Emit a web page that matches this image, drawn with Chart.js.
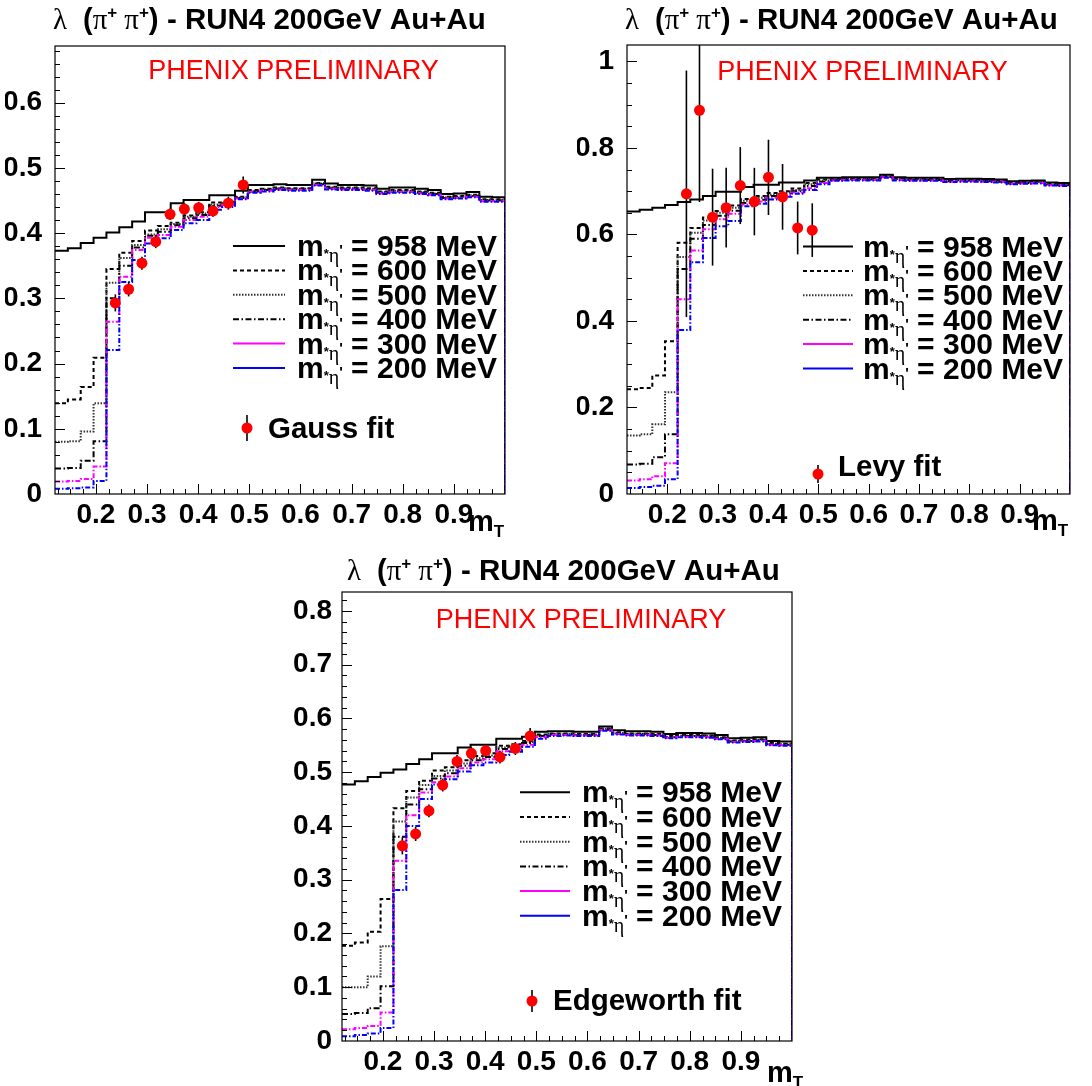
<!DOCTYPE html>
<html>
<head>
<meta charset="utf-8">
<script src="https://cdn.jsdelivr.net/npm/chart.js@4.4.0/dist/chart.umd.min.js"></script>
<style>
body { margin: 0; background: #fff; width: 1092px; height: 1086px; position: relative; overflow: hidden; }
canvas { position: absolute; }
</style>
</head>
<body>
<canvas id="chart_gauss" width="546" height="543" style="left:0px;top:0px"></canvas>
<canvas id="chart_levy" width="546" height="543" style="left:546px;top:0px"></canvas>
<canvas id="chart_edge" width="546" height="546" style="left:270px;top:540px"></canvas>
<script>
var SANS = '"Liberation Sans", Arial, sans-serif';
var SERIF = '"Liberation Serif", "Times New Roman", serif';

// m_T binning of the simulated histograms
var binLow = 0.12, binHigh = 1.0, nBins = 35;
var binEdges = [];
for (var k = 0; k <= nBins; k++) binEdges.push(binLow + k * (binHigh - binLow) / nBins);

var masses = ['958', '600', '500', '400', '300', '200'];

// GAUSS
var gauss958 = [0.373, 0.377, 0.385, 0.393, 0.401, 0.409, 0.418, 0.432, 0.432, 0.446, 0.451, 0.451, 0.458, 0.458, 0.465, 0.474, 0.474, 0.475, 0.474, 0.474, 0.482, 0.476, 0.474, 0.474, 0.473, 0.468, 0.470, 0.470, 0.468, 0.466, 0.460, 0.461, 0.463, 0.456, 0.455];
var gauss600 = [0.139, 0.145, 0.164, 0.209, 0.345, 0.370, 0.388, 0.404, 0.411, 0.416, 0.427, 0.432, 0.447, 0.448, 0.456, 0.466, 0.468, 0.470, 0.469, 0.469, 0.477, 0.471, 0.470, 0.470, 0.469, 0.464, 0.466, 0.466, 0.464, 0.462, 0.456, 0.457, 0.459, 0.452, 0.452];
var gauss500 = [0.080, 0.081, 0.096, 0.139, 0.324, 0.362, 0.382, 0.398, 0.406, 0.414, 0.425, 0.430, 0.444, 0.446, 0.455, 0.465, 0.467, 0.469, 0.468, 0.468, 0.476, 0.470, 0.469, 0.469, 0.468, 0.463, 0.465, 0.465, 0.463, 0.461, 0.455, 0.456, 0.458, 0.451, 0.451];
var gauss400 = [0.039, 0.040, 0.051, 0.081, 0.300, 0.350, 0.378, 0.396, 0.402, 0.412, 0.423, 0.428, 0.442, 0.445, 0.454, 0.464, 0.466, 0.468, 0.467, 0.467, 0.475, 0.469, 0.468, 0.468, 0.467, 0.462, 0.464, 0.464, 0.462, 0.460, 0.454, 0.455, 0.457, 0.450, 0.450];
var gauss300 = [0.019, 0.020, 0.023, 0.042, 0.264, 0.333, 0.374, 0.393, 0.397, 0.410, 0.420, 0.425, 0.440, 0.443, 0.453, 0.463, 0.465, 0.467, 0.466, 0.466, 0.474, 0.468, 0.467, 0.467, 0.466, 0.461, 0.463, 0.463, 0.461, 0.459, 0.453, 0.454, 0.456, 0.449, 0.449];
var gauss200 = [0.008, 0.009, 0.010, 0.020, 0.221, 0.325, 0.359, 0.384, 0.392, 0.405, 0.415, 0.420, 0.436, 0.440, 0.452, 0.462, 0.464, 0.466, 0.465, 0.465, 0.473, 0.467, 0.466, 0.466, 0.465, 0.460, 0.462, 0.462, 0.460, 0.458, 0.452, 0.453, 0.455, 0.448, 0.448];

// LEVY
var levy958 = [0.653, 0.657, 0.662, 0.668, 0.675, 0.681, 0.689, 0.699, 0.699, 0.710, 0.715, 0.715, 0.720, 0.720, 0.725, 0.731, 0.731, 0.732, 0.732, 0.732, 0.738, 0.732, 0.731, 0.731, 0.731, 0.728, 0.729, 0.729, 0.728, 0.727, 0.723, 0.724, 0.725, 0.720, 0.719];
var levy600 = [0.242, 0.245, 0.274, 0.353, 0.581, 0.615, 0.639, 0.654, 0.667, 0.682, 0.689, 0.696, 0.700, 0.706, 0.719, 0.727, 0.728, 0.729, 0.729, 0.729, 0.735, 0.729, 0.728, 0.728, 0.728, 0.725, 0.726, 0.726, 0.725, 0.724, 0.720, 0.721, 0.722, 0.717, 0.716];
var levy500 = [0.135, 0.138, 0.161, 0.235, 0.548, 0.604, 0.632, 0.650, 0.662, 0.678, 0.685, 0.692, 0.697, 0.703, 0.716, 0.725, 0.727, 0.728, 0.728, 0.728, 0.734, 0.728, 0.727, 0.727, 0.727, 0.724, 0.725, 0.725, 0.724, 0.723, 0.719, 0.720, 0.721, 0.716, 0.715];
var levy400 = [0.068, 0.070, 0.085, 0.138, 0.520, 0.590, 0.622, 0.643, 0.655, 0.673, 0.680, 0.689, 0.694, 0.700, 0.712, 0.722, 0.726, 0.727, 0.727, 0.727, 0.733, 0.727, 0.726, 0.726, 0.726, 0.723, 0.724, 0.724, 0.723, 0.722, 0.718, 0.719, 0.720, 0.715, 0.714];
var levy300 = [0.031, 0.034, 0.041, 0.071, 0.450, 0.563, 0.612, 0.635, 0.648, 0.669, 0.676, 0.685, 0.691, 0.697, 0.707, 0.719, 0.725, 0.726, 0.726, 0.726, 0.732, 0.726, 0.725, 0.725, 0.725, 0.722, 0.723, 0.723, 0.722, 0.721, 0.717, 0.718, 0.719, 0.714, 0.713];
var levy200 = [0.014, 0.016, 0.019, 0.034, 0.379, 0.536, 0.592, 0.619, 0.631, 0.665, 0.671, 0.681, 0.687, 0.694, 0.703, 0.716, 0.724, 0.725, 0.725, 0.725, 0.731, 0.725, 0.724, 0.724, 0.724, 0.721, 0.722, 0.722, 0.721, 0.720, 0.716, 0.717, 0.718, 0.713, 0.712];

// EDGEWORTH
var edge958 = [0.477, 0.483, 0.491, 0.499, 0.505, 0.515, 0.524, 0.535, 0.535, 0.546, 0.551, 0.551, 0.562, 0.562, 0.566, 0.575, 0.576, 0.576, 0.575, 0.575, 0.585, 0.578, 0.576, 0.576, 0.575, 0.571, 0.573, 0.573, 0.572, 0.569, 0.563, 0.564, 0.565, 0.558, 0.557];
var edge600 = [0.177, 0.183, 0.203, 0.264, 0.433, 0.465, 0.484, 0.503, 0.509, 0.522, 0.530, 0.535, 0.549, 0.552, 0.558, 0.570, 0.572, 0.572, 0.571, 0.571, 0.581, 0.574, 0.572, 0.572, 0.571, 0.567, 0.569, 0.569, 0.568, 0.565, 0.559, 0.560, 0.561, 0.554, 0.553];
var edge500 = [0.100, 0.100, 0.120, 0.176, 0.408, 0.453, 0.476, 0.493, 0.503, 0.516, 0.526, 0.531, 0.546, 0.549, 0.556, 0.568, 0.571, 0.571, 0.570, 0.570, 0.580, 0.573, 0.571, 0.571, 0.570, 0.566, 0.568, 0.568, 0.567, 0.564, 0.558, 0.559, 0.560, 0.553, 0.552];
var edge400 = [0.050, 0.052, 0.061, 0.102, 0.380, 0.440, 0.468, 0.488, 0.498, 0.512, 0.522, 0.528, 0.543, 0.547, 0.554, 0.567, 0.570, 0.570, 0.569, 0.569, 0.579, 0.572, 0.570, 0.570, 0.569, 0.565, 0.567, 0.567, 0.566, 0.563, 0.557, 0.558, 0.559, 0.552, 0.551];
var edge300 = [0.022, 0.024, 0.028, 0.053, 0.335, 0.420, 0.462, 0.481, 0.492, 0.507, 0.518, 0.524, 0.539, 0.543, 0.551, 0.565, 0.569, 0.569, 0.568, 0.568, 0.578, 0.571, 0.569, 0.569, 0.568, 0.564, 0.566, 0.566, 0.565, 0.562, 0.556, 0.557, 0.558, 0.551, 0.550];
var edge200 = [0.009, 0.011, 0.014, 0.024, 0.281, 0.400, 0.450, 0.477, 0.487, 0.501, 0.513, 0.518, 0.532, 0.538, 0.547, 0.562, 0.567, 0.568, 0.567, 0.567, 0.577, 0.570, 0.568, 0.568, 0.567, 0.563, 0.565, 0.565, 0.564, 0.561, 0.555, 0.556, 0.557, 0.550, 0.549];

// measured lambda (same m_T points for the three fits)
var mtPoints = [0.238, 0.264, 0.290, 0.317, 0.345, 0.373, 0.401, 0.429, 0.459, 0.488];
var gaussY = [0.293, 0.314, 0.354, 0.387, 0.429, 0.437, 0.439, 0.434, 0.446, 0.474];
var gaussErr = [0.013, 0.011, 0.010, 0.010, 0.009, 0.009, 0.009, 0.009, 0.010, 0.013];
var levyY = [0.694, 0.887, 0.640, 0.662, 0.713, 0.676, 0.732, 0.687, 0.615, 0.610];
var levyErr = [0.285, 0.212, 0.112, 0.092, 0.089, 0.078, 0.087, 0.076, 0.061, 0.062];
var edgeY = [0.363, 0.385, 0.428, 0.476, 0.520, 0.535, 0.540, 0.528, 0.544, 0.567];
var edgeErr = [0.016, 0.013, 0.012, 0.012, 0.012, 0.012, 0.012, 0.012, 0.012, 0.015];

// axis ticks
var xTicks = [0.2, 0.3, 0.4, 0.5, 0.6, 0.7, 0.8, 0.9];
var xTickLabels = ['0.2', '0.3', '0.4', '0.5', '0.6', '0.7', '0.8', '0.9'];
var gaussYTicks = [0, 0.1, 0.2, 0.3, 0.4, 0.5, 0.6];
var gaussYLabels = ['0', '0.1', '0.2', '0.3', '0.4', '0.5', '0.6'];
var levyYTicks = [0, 0.2, 0.4, 0.6, 0.8, 1];
var levyYLabels = ['0', '0.2', '0.4', '0.6', '0.8', '1'];
var edgeYTicks = [0, 0.1, 0.2, 0.3, 0.4, 0.5, 0.6, 0.7, 0.8];
var edgeYLabels = ['0', '0.1', '0.2', '0.3', '0.4', '0.5', '0.6', '0.7', '0.8'];

// line styles: 958, 600, 500, 400, 300, 200
var colors = ['#000000', '#000000', '#333333', '#000000', '#ff00ff', '#0000ff'];
var dashes = [[], [4, 3], [1.5, 1.5], [6, 2.5, 1.5, 2.5], [5, 2, 1.5, 2], [5, 2, 1.5, 2]];
var legendDashes = [[], [4, 3], [1.5, 1.5], [6, 2.5, 1.5, 2.5], [], []];

function histPoints(vals) {
    var pts = vals.map(function(v, i) { return { x: binEdges[i], y: v }; });
    pts.push({ x: binEdges[nBins], y: 0 });
    return pts;
}

function drawRuns(ctx, x, y, runs) {
    runs.forEach(function(r) {
        ctx.font = r.f;
        ctx.fillText(r.t, x, y + (r.dy || 0));
        x += ctx.measureText(r.t).width + (r.gap || 0);
    });
    return x;
}

function makeDecor(p) {
    return {
        id: 'decor',
        beforeDatasetDraw: function(chart, args) {
            if (args.meta.type !== 'scatter') return;
            var ctx = chart.ctx, a = chart.chartArea, xs = chart.scales.x, ys = chart.scales.y;
            ctx.save();
            ctx.beginPath();
            ctx.rect(a.left, a.top, a.right - a.left, a.bottom - a.top);
            ctx.clip();
            ctx.strokeStyle = '#000';
            ctx.lineWidth = 1.6;
            for (var i = 0; i < p.pts.length; i++) {
                var px = xs.getPixelForValue(mtPoints[i]);
                ctx.beginPath();
                ctx.moveTo(px, ys.getPixelForValue(p.pts[i] - p.err[i]));
                ctx.lineTo(px, ys.getPixelForValue(p.pts[i] + p.err[i]));
                ctx.stroke();
            }
            ctx.restore();
        },
        afterDraw: function(chart) {
            var ctx = chart.ctx, a = chart.chartArea, xs = chart.scales.x, ys = chart.scales.y;
            ctx.save();
            ctx.strokeStyle = '#000';
            ctx.lineWidth = 1.2;
            ctx.strokeRect(a.left, a.top, a.right - a.left, a.bottom - a.top);

            // ticks inside the frame
            ctx.lineWidth = 1;
            ctx.beginPath();
            for (var k = 5; k < 40; k++) {
                var v = k * 0.025;
                if (v <= binLow || v >= binHigh) continue;
                var len = (k % 4 === 0) ? 10 : 5;
                var px = Math.round(xs.getPixelForValue(v)) + 0.5;
                ctx.moveTo(px, a.bottom);
                ctx.lineTo(px, a.bottom - len);
            }
            for (var j = 1; j * p.minorY < p.yMax; j++) {
                var yv = j * p.minorY;
                var major = Math.abs(yv / p.majorY - Math.round(yv / p.majorY)) < 1e-6;
                var py = Math.round(ys.getPixelForValue(yv)) + 0.5;
                ctx.moveTo(a.left, py);
                ctx.lineTo(a.left + (major ? 10 : 5), py);
            }
            ctx.stroke();

            ctx.fillStyle = '#000';
            ctx.textAlign = 'left';
            ctx.textBaseline = 'alphabetic';

            // title
            drawRuns(ctx, p.title[0], p.title[1], [
                { t: 'λ', f: '29px ' + SERIF, gap: 16 },
                { t: '(', f: 'bold 29px ' + SANS },
                { t: 'π', f: '29px ' + SERIF },
                { t: '+', f: 'bold 17px ' + SANS, dy: -11, gap: 7 },
                { t: 'π', f: '29px ' + SERIF },
                { t: '+', f: 'bold 17px ' + SANS, dy: -11 },
                { t: ') - RUN4 200GeV Au+Au', f: 'bold 29.5px ' + SANS }
            ]);

            // preliminary
            ctx.fillStyle = '#ff0000';
            ctx.textAlign = 'center';
            ctx.font = '27px ' + SANS;
            ctx.fillText('PHENIX PRELIMINARY', p.phenix[0], p.phenix[1]);
            ctx.textAlign = 'left';

            // legend
            var L = p.legend;
            for (var i = 0; i < masses.length; i++) {
                var ly = L.y0 + i * L.dy;
                ctx.strokeStyle = colors[i];
                ctx.lineWidth = 2;
                ctx.setLineDash(legendDashes[i]);
                ctx.beginPath();
                ctx.moveTo(L.x0, ly);
                ctx.lineTo(L.x1, ly);
                ctx.stroke();
                ctx.setLineDash([]);
                ctx.fillStyle = '#000';
                drawRuns(ctx, L.tx, ly + 10, [
                    { t: 'm', f: 'bold 30px ' + SANS },
                    { t: '*', f: 'bold 13px ' + SANS, dy: 2 },
                    { t: 'η', f: '20px ' + SERIF, dy: 6 },
                    { t: "'", f: 'bold 15px ' + SANS, dy: -1 },
                    { t: ' = ' + masses[i] + ' MeV', f: 'bold 30px ' + SANS }
                ]);
            }

            // fit marker entry
            var F = p.fit;
            ctx.strokeStyle = '#000';
            ctx.lineWidth = 1.6;
            ctx.beginPath();
            ctx.moveTo(F.mx, F.my - F.bar);
            ctx.lineTo(F.mx, F.my + F.bar);
            ctx.stroke();
            ctx.fillStyle = '#ff0000';
            ctx.beginPath();
            ctx.arc(F.mx, F.my, 5.5, 0, 2 * Math.PI);
            ctx.fill();
            ctx.fillStyle = '#000';
            ctx.font = 'bold 29.5px ' + SANS;
            ctx.fillText(F.text, F.tx, F.ty);

            // axis title
            drawRuns(ctx, p.mt[0], p.mt[1], [
                { t: 'm', f: 'bold 29px ' + SANS },
                { t: 'T', f: 'bold 17px ' + SANS, dy: 6 }
            ]);
            ctx.restore();
        }
    };
}

function chartCreate(id, p) {
    var datasets = [{
        type: 'scatter',
        data: mtPoints.map(function(x, i) { return { x: x, y: p.pts[i] }; }),
        backgroundColor: '#ff0000',
        borderWidth: 0,
        pointRadius: 5.5,
        order: 0
    }];
    p.series.forEach(function(vals, i) {
        datasets.push({
            type: 'line',
            label: masses[i] + ' MeV',
            data: histPoints(vals),
            borderColor: colors[i],
            borderWidth: 2,
            borderDash: dashes[i],
            stepped: true,
            pointRadius: 0,
            fill: false,
            order: 6 - i
        });
    });
    const config = {
        type: 'line',
        data: { datasets: datasets },
        options: {
            responsive: false,
            animation: false,
            devicePixelRatio: 1,
            layout: { padding: p.padding },
            plugins: { legend: { display: false }, tooltip: { enabled: false }, title: { display: false } },
            scales: {
                x: {
                    type: 'linear',
                    min: binLow,
                    max: binHigh,
                    grid: { display: false },
                    border: { display: false },
                    afterBuildTicks: function(s) { s.ticks = xTicks.map(function(v) { return { value: v }; }); },
                    afterFit: function(s) { s.height = 40; },
                    ticks: {
                        autoSkip: false,
                        maxRotation: 0,
                        padding: -4,
                        color: '#000',
                        font: { family: SANS, size: 28, weight: 'bold' },
                        callback: function(v, i) { return xTickLabels[i]; }
                    }
                },
                y: {
                    type: 'linear',
                    min: 0,
                    max: p.yMax,
                    grid: { display: false },
                    border: { display: false },
                    afterBuildTicks: function(s) { s.ticks = p.yTicks.map(function(v) { return { value: v }; }); },
                    afterFit: function(s) { s.width = 50; },
                    ticks: {
                        autoSkip: false,
                        padding: p.yPad,
                        color: '#000',
                        font: { family: SANS, size: 28, weight: 'bold' },
                        callback: function(v, i) { return p.yLabels[i]; }
                    }
                }
            }
        },
        plugins: [makeDecor(p)]
    };
    return new Chart(document.getElementById(id), config);
}

chartCreate('chart_gauss', {
    series: [gauss958, gauss600, gauss500, gauss400, gauss300, gauss200],
    pts: gaussY, err: gaussErr,
    yMax: 0.687, yTicks: gaussYTicks, yLabels: gaussYLabels, majorY: 0.1, minorY: 0.02, yPad: 5,
    padding: { left: 5, top: 46, right: 41, bottom: 9 },
    title: [53, 29], phenix: [293.5, 79], mt: [468, 531],
    legend: { x0: 233, x1: 285, tx: 297, y0: 246, dy: 24.4 },
    fit: { mx: 247, my: 428, bar: 13, tx: 268, ty: 438, text: 'Gauss fit' }
});

chartCreate('chart_levy', {
    series: [levy958, levy600, levy500, levy400, levy300, levy200],
    pts: levyY, err: levyErr,
    yMax: 1.038, yTicks: levyYTicks, yLabels: levyYLabels, majorY: 0.2, minorY: 0.05, yPad: 5,
    padding: { left: 31, top: 45, right: 22, bottom: 9 },
    title: [79, 29], phenix: [316.5, 80], mt: [486, 530],
    legend: { x0: 257, x1: 307, tx: 317, y0: 246.5, dy: 24.4 },
    fit: { mx: 272, my: 474, bar: 9, tx: 292, ty: 476, text: 'Levy fit' }
});

chartCreate('chart_edge', {
    series: [edge958, edge600, edge500, edge400, edge300, edge200],
    pts: edgeY, err: edgeErr,
    yMax: 0.835, yTicks: edgeYTicks, yLabels: edgeYLabels, majorY: 0.1, minorY: 0.02, yPad: 2,
    padding: { left: 22, top: 52, right: 24, bottom: 5 },
    title: [77, 40], phenix: [311, 88], mt: [497, 542],
    legend: { x0: 250, x1: 300, tx: 312, y0: 252.3, dy: 24.7 },
    fit: { mx: 262, my: 461, bar: 11, tx: 283, ty: 470, text: 'Edgeworth fit' }
});
</script>
</body>
</html>
